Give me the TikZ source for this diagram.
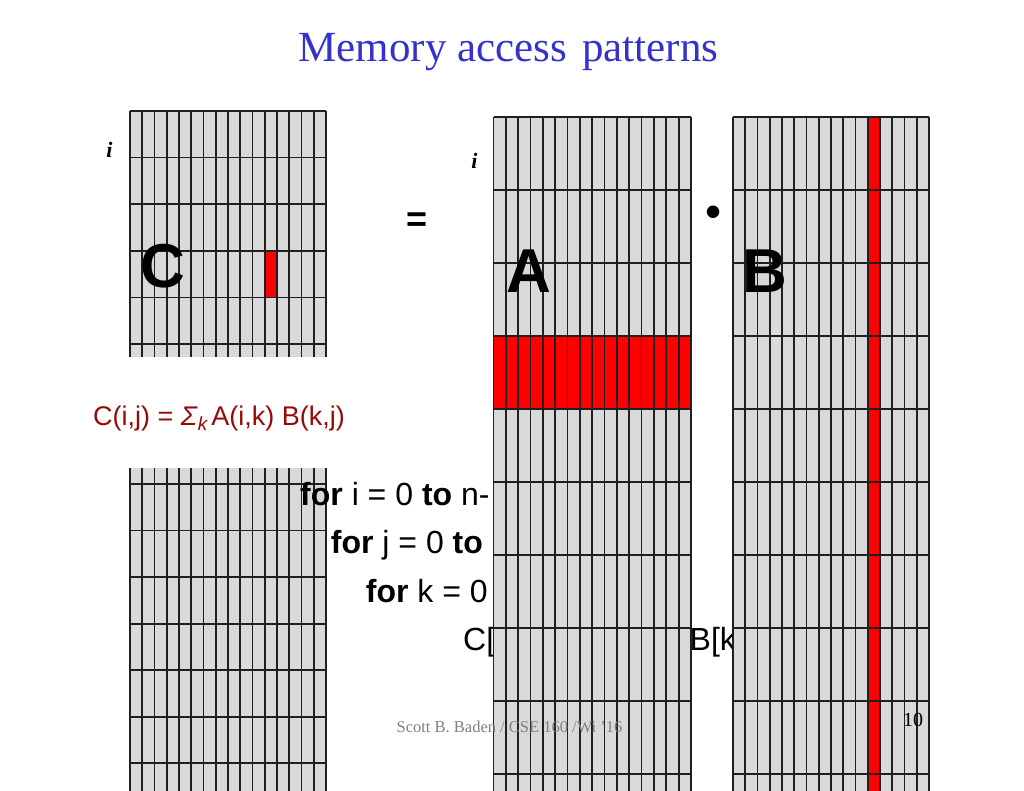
\documentclass[tikz,border=0pt]{standalone}
\usepackage{fontspec}
\setmainfont{Liberation Serif}
\setsansfont{Liberation Sans}
\definecolor{gridgray}{RGB}{217,217,217}
\definecolor{gridred}{RGB}{255,0,0}
\definecolor{titleblue}{RGB}{51,51,204}
\definecolor{formulared}{RGB}{150,10,10}
\definecolor{footgray}{RGB}{128,128,128}
\begin{document}
\begin{tikzpicture}[x=1pt,y=-1pt,
  gridline/.style={line width=1.7pt,draw=black!88},
  biglabel/.style={font=\sffamily\bfseries\fontsize{62}{62}\selectfont,anchor=base,inner sep=0pt},
  codeline/.style={font=\sffamily\fontsize{32}{38}\selectfont,anchor=base west,inner sep=0pt},
  ilabel/.style={font=\bfseries\itshape\fontsize{22}{22}\selectfont,anchor=base,inner sep=0pt}]
\useasboundingbox (0,0) rectangle (1024,791);
\fill[white] (0,0) rectangle (1024,791);
% title
\node[font=\fontsize{43}{43}\selectfont,text=titleblue,anchor=base,inner sep=0pt] (title) at (508.5,61.7) {Memory access\hskip0.35em patterns};
% C grid (top)
\fill[gridgray] (130,111) rectangle (326,357);
\fill[gridred] (264.75,250.8) rectangle (277,297.4);
\foreach \i in {0,...,16} \draw[gridline] ({130+\i*12.25},111) -- ({130+\i*12.25},357);
\foreach \j in {0,...,5} \draw[gridline] (130,{111+\j*46.6}) -- (326,{111+\j*46.6});
% lower-left grid
\fill[gridgray] (130,468) rectangle (326,791);
\foreach \i in {0,...,16} \draw[gridline] ({130+\i*12.25},468) -- ({130+\i*12.25},791);
\foreach \j in {0,...,6} \draw[gridline] (130,{484+\j*46.55}) -- (326,{484+\j*46.55});
% code
\node[codeline] (loopi) at (300,505) {{\bfseries for} i = 0 {\bfseries to} n-};
\node[codeline] (loopj) at (330.7,553.3) {{\bfseries for} j = 0 {\bfseries to}};
\node[codeline] (loopk) at (365.7,602.3) {{\bfseries for} k = 0};
\node[codeline] (stmtc) at (463,650.7) {C[};
\node[codeline] (stmtb) at (689.5,650.7) {B[k};
% A grid
\fill[gridgray] (493.5,117.3) rectangle (691,791);
\fill[gridred] (493.5,336.3) rectangle (691,409.3);
\foreach \i in {0,...,16} \draw[gridline] ({493.5+\i*12.34375},117.3) -- ({493.5+\i*12.34375},791);
\foreach \j in {0,...,9} \draw[gridline] (493.5,{117.3+\j*73}) -- (691,{117.3+\j*73});
% B grid
\fill[gridgray] (733,117.3) rectangle (929,791);
\fill[gridred] (867.75,117.3) rectangle (880,791);
\foreach \i in {0,...,16} \draw[gridline] ({733+\i*12.25},117.3) -- ({733+\i*12.25},791);
\foreach \j in {0,...,9} \draw[gridline] (733,{117.3+\j*73}) -- (929,{117.3+\j*73});
% labels
\node[biglabel] (labc) at (163.3,287.7) {C};
\node[biglabel] (laba) at (529,292.7) {A};
\node[biglabel] (labb) at (765,292.7) {B};
\node[ilabel] (ic) at (109.5,158) {i};
\node[ilabel] (ia) at (474.3,169) {i};
\node[font=\sffamily\bfseries\fontsize{36}{36}\selectfont,anchor=base,inner sep=0pt] (eq) at (417.3,232) {=};
\node[font=\sffamily\fontsize{46}{46}\selectfont,anchor=center,inner sep=0pt] (dot) at (713.7,217) {•};
\node[font=\sffamily\fontsize{27}{30}\selectfont,text=formulared,anchor=base west,inner sep=0pt] (formula) at (93,425)
  {C(i,j) = \textit{Σ}\raisebox{-0.22em}{\fontsize{19}{19}\selectfont\textit{k}}\hskip0.12em A(i,k) B(k,j)};
% footer
\node[font=\fontsize{16.5}{17}\selectfont,text=footgray,anchor=base,inner sep=0pt] (footer) at (509.5,732.5) {Scott B. Baden / CSE 160 /Wi '16};
\node[font=\fontsize{20}{20}\selectfont,anchor=base,inner sep=0pt] (page) at (913,726) {10};
\end{tikzpicture}
\end{document}
